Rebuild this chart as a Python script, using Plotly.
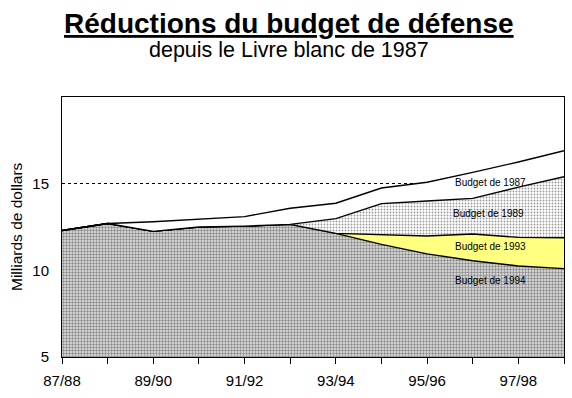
import plotly.graph_objects as go

years = ['87/88', '88/89', '89/90', '90/91', '91/92', '92/93',
         '93/94', '94/95', '95/96', '96/97', '97/98', '98/99']
tick_labels = ['87/88', '', '89/90', '', '91/92', '',
               '93/94', '', '95/96', '', '97/98', '']
b1994 = [12.3, 12.7, 12.25, 12.5, 12.55, 12.65, 12.13, 11.5, 10.95, 10.55, 10.25, 10.1]
b1993 = [12.3, 12.7, 12.25, 12.5, 12.55, 12.65, 12.13, 12.05, 11.98, 12.1, 11.9, 11.88]
b1989 = [12.3, 12.7, 12.25, 12.5, 12.55, 12.65, 12.98, 13.85, 14.0, 14.15, 14.8, 15.4]
b1987 = [12.3, 12.7, 12.8, 12.95, 13.1, 13.58, 13.87, 14.75, 15.08, 15.65, 16.25, 16.9]
series_names = ['Budget de 1994', 'Budget de 1993', 'Budget de 1989', 'Budget de 1987']
y_ticks = [5, 10, 15]

FONT = 'Liberation Sans, Arial, Helvetica, sans-serif'
line = dict(color='black', width=1.4)

fig = go.Figure()
fig.add_trace(go.Scatter(
    x=years, y=b1994, mode='lines', line=line, fill='tozeroy',
    fillcolor='white',
    fillpattern=dict(shape='.', size=3, solidity=0.5, fgcolor='#8a8a8a',
                     bgcolor='#e6e6e6', fillmode='replace'),
    name=series_names[0], showlegend=False, hoverinfo='skip'))
fig.add_trace(go.Scatter(
    x=years, y=b1993, mode='lines', line=line, fill='tonexty',
    fillcolor='#ffff80', name=series_names[1], showlegend=False, hoverinfo='skip'))
fig.add_trace(go.Scatter(
    x=years, y=b1989, mode='lines', line=line, fill='tonexty',
    fillcolor='white',
    fillpattern=dict(shape='.', size=3, solidity=0.3, fgcolor='#9a9a9a',
                     bgcolor='white', fillmode='replace'),
    name=series_names[2], showlegend=False, hoverinfo='skip'))
fig.add_trace(go.Scatter(
    x=years, y=b1987, mode='lines', line=line, fill='tonexty',
    fillcolor='white', name=series_names[3], showlegend=False, hoverinfo='skip'))

label_pos = [(9.4, 9.4), (9.4, 11.4), (9.35, 13.3), (9.4, 15.05)]
for name, (lx, ly) in zip(series_names, label_pos):
    fig.add_annotation(x=lx, y=ly, xref='x', yref='y', text=name, showarrow=False,
                       font=dict(family=FONT, size=10, color='black'))

fig.add_annotation(x=0.5, y=1, xref='paper', yref='paper', yshift=74, xshift=-24,
                   text='<b><u>Réductions du budget de défense</u></b>',
                   showarrow=False, font=dict(family=FONT, size=28, color='black'),
                   xanchor='center', yanchor='middle')
fig.add_annotation(x=0.5, y=1, xref='paper', yref='paper', yshift=47, xshift=-24,
                   text='depuis le Livre blanc de 1987',
                   showarrow=False, font=dict(family=FONT, size=21.5, color='black'),
                   xanchor='center', yanchor='middle')
fig.add_annotation(x=0, y=0.5, xref='paper', yref='paper', xshift=-46,
                   text='Milliards de dollars', textangle=-90, showarrow=False,
                   font=dict(family=FONT, size=15.5, color='black'),
                   xanchor='center', yanchor='middle')

fig.update_xaxes(type='category', range=[0, 11], tickmode='array', tickvals=years,
                 ticktext=tick_labels, ticks='outside', ticklen=6, tickcolor='black',
                 showline=True, mirror=True, linecolor='black', linewidth=1,
                 showgrid=False, zeroline=False, ticklabelstandoff=4, automargin=False,
                 tickfont=dict(family=FONT, size=15, color='black'))
fig.update_yaxes(range=[5, 20], tickmode='array', tickvals=y_ticks,
                 ticks='', showline=True, mirror=True, linecolor='black', linewidth=1,
                 showgrid=True, gridcolor='black', gridwidth=1, griddash='3px,3px',
                 zeroline=False, ticklabelstandoff=9, automargin=False,
                 tickfont=dict(family=FONT, size=15, color='black'))
fig.update_layout(width=572, height=398, margin=dict(l=62, r=8, t=97, b=41),
                  plot_bgcolor='white', paper_bgcolor='white',
                  font=dict(family=FONT, color='black'))
fig.write_html('out.html', config={'displayModeBar': False},
               post_script="document.body.style.margin='0';document.body.style.padding='0';")
